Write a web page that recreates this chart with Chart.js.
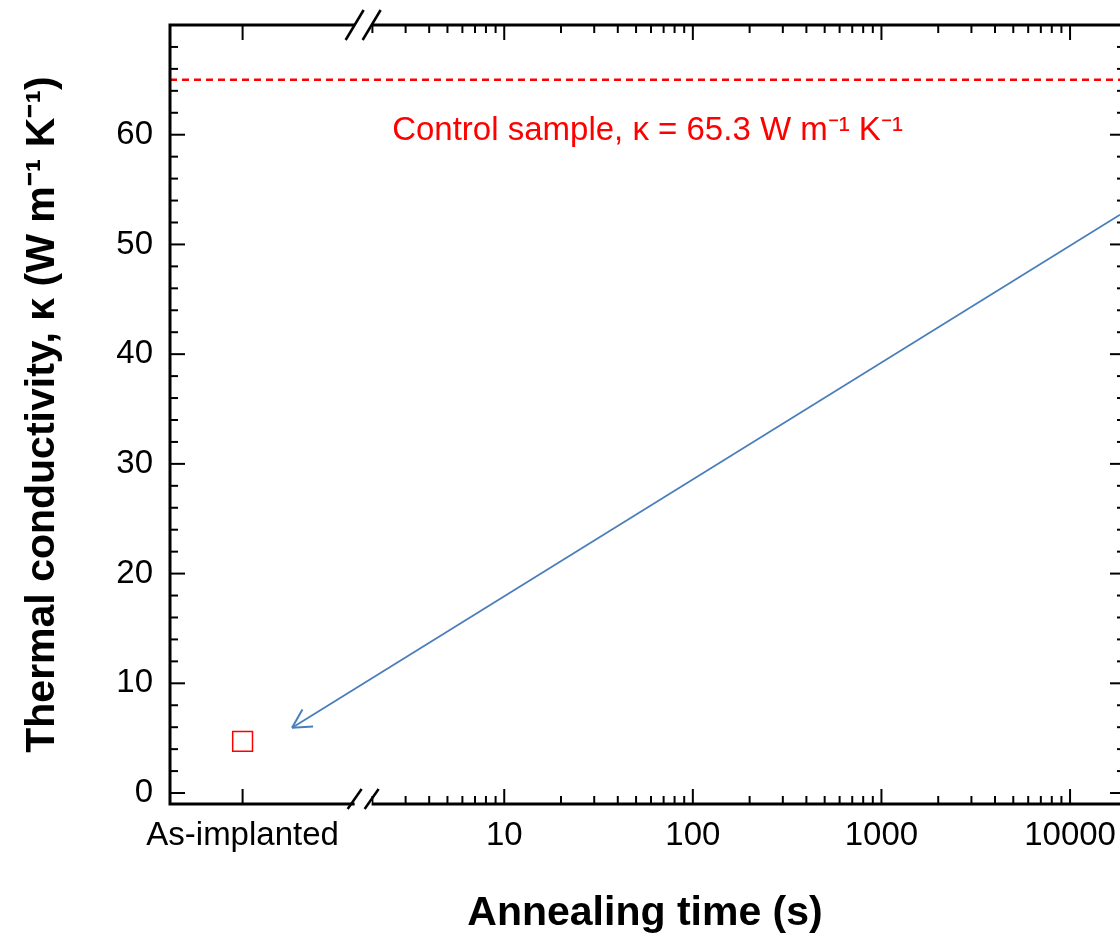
<!DOCTYPE html>
<html>
<head>
<meta charset="utf-8">
<title>Thermal conductivity vs annealing time</title>
<script src="https://cdn.jsdelivr.net/npm/chart.js@4.4.1/dist/chart.umd.min.js"></script>
<style>
  html, body { margin: 0; padding: 0; background: #fff; overflow: hidden; }
  #kappaChart { display: block; }
</style>
</head>
<body>
<canvas id="kappaChart" width="1120" height="939"></canvas>
<script>
// values
const sampleLabels = ['As-implanted'];
const sampleKappa = [4.7];            // W m-1 K-1
const controlKappa = [65];            // dashed reference level
const controlText = 'Control sample, κ = 65.3 W m⁻¹ K⁻¹';
const xTickValues = [10, 100, 1000, 10000];
const xTickLabels = ['10', '100', '1000', '10000'];
const yTickValues = [0, 10, 20, 30, 40, 50, 60];
// arrow annotation, [time (s), kappa]
const arrowTail = [18400, 52.7];
const arrowHead = [0.75, 5.95];

// broken x axis: a slot for the as-implanted sample left of the break, log time on the right.
// The figure is cropped at the right, so X_MAX is where the picture ends, not the axis.
const X_MIN = 0.169, X_MAX = 18400;
const AS_IMPLANTED_X = 0.41;
const X_BREAK = 1.83;
const Y_MIN = -1, Y_MAX = 70;

const FONT = "'Liberation Sans', Arial, sans-serif";

// keep the plot box where the layout padding puts it
function noScalePadding(s) {
    s.paddingTop = 0; s.paddingBottom = 0; s.paddingLeft = 0; s.paddingRight = 0;
}

const framePlugin = {
    id: 'frame',
    afterDatasetsDraw(chart) {
        const { ctx, chartArea: a, scales: { x, y } } = chart;
        const line = (x1, y1, x2, y2) => {
            ctx.beginPath(); ctx.moveTo(x1, y1); ctx.lineTo(x2, y2); ctx.stroke();
        };
        // the right frame sits just past the cropped edge
        const rightEdge = a.right + 5;
        ctx.save();
        ctx.strokeStyle = '#000';

        // inward ticks on all four sides
        ctx.lineWidth = 2;
        const major = 15, minor = 8;
        for (let v = 0; v <= Y_MAX; v += 2) {
            const p = y.getPixelForValue(v);
            const len = v % 10 === 0 ? major : minor;
            line(a.left, p, a.left + len, p);
            line(rightEdge, p, rightEdge - len, p);
        }
        const xTick = (v, len) => {
            const p = x.getPixelForValue(v);
            line(p, a.bottom, p, a.bottom - len);
            line(p, a.top, p, a.top + len);
        };
        xTick(AS_IMPLANTED_X, major);
        for (let d = 1; d <= 10000; d *= 10) {
            for (let m = 1; m <= 9; m++) {
                const v = m * d;
                if (v > X_BREAK && v < X_MAX) xTick(v, m === 1 ? major : minor);
            }
        }

        // box
        ctx.lineWidth = 3;
        ctx.strokeRect(a.left, a.top, rightEdge - a.left, a.bottom - a.top);

        // axis break marks
        const bx = x.getPixelForValue(X_BREAK);
        const gap = 17;
        ctx.fillStyle = '#fff';
        ctx.fillRect(bx - gap / 2 - 2, a.top - 3, gap, 6);
        ctx.fillRect(bx - gap / 2 - 2, a.bottom - 3, gap, 6);
        ctx.lineWidth = 2.5;
        [bx - gap / 2 - 2, bx + gap / 2 - 2].forEach(cx => {
            line(cx - 9, a.top + 15, cx + 9, a.top - 15);
            line(cx - 7, a.bottom + 5, cx + 7, a.bottom - 15);
        });

        // arrow head
        const hx = x.getPixelForValue(arrowHead[0]), hy = y.getPixelForValue(arrowHead[1]);
        const tx = x.getPixelForValue(arrowTail[0]), ty = y.getPixelForValue(arrowTail[1]);
        const ang = Math.atan2(ty - hy, tx - hx);
        const wing = 21, spread = 0.5;
        ctx.strokeStyle = '#4a7ebb';
        ctx.lineWidth = 2;
        line(hx, hy, hx + wing * Math.cos(ang + spread), hy + wing * Math.sin(ang + spread));
        line(hx, hy, hx + wing * Math.cos(ang - spread), hy + wing * Math.sin(ang - spread));

        // control sample label
        ctx.fillStyle = '#ff0000';
        ctx.font = '33px ' + FONT;
        ctx.textAlign = 'center';
        ctx.textBaseline = 'alphabetic';
        ctx.fillText(controlText, (a.left + rightEdge) / 2, y.getPixelForValue(controlKappa[0]) + 60);
        ctx.restore();
    }
};

new Chart(document.getElementById('kappaChart'), {
    type: 'scatter',
    data: {
        datasets: [
            {
                label: 'Control sample',
                data: [{ x: X_MIN, y: controlKappa[0] }, { x: X_MAX, y: controlKappa[0] }],
                showLine: true,
                borderColor: '#ff0000',
                borderWidth: 2.5,
                borderDash: [7, 5],
                pointRadius: 0
            },
            {
                label: 'arrow',
                data: [{ x: arrowTail[0], y: arrowTail[1] }, { x: arrowHead[0], y: arrowHead[1] }],
                showLine: true,
                borderColor: '#4a7ebb',
                borderWidth: 1.8,
                pointRadius: 0
            },
            {
                label: sampleLabels[0],
                data: sampleKappa.map(k => ({ x: AS_IMPLANTED_X, y: k })),
                pointStyle: 'rect',
                pointRadius: 14,
                pointHoverRadius: 14,
                borderColor: '#ff0000',
                borderWidth: 1.5,
                backgroundColor: 'rgba(0,0,0,0)'
            }
        ]
    },
    options: {
        responsive: false,
        animation: false,
        devicePixelRatio: 1,
        layout: { autoPadding: false, padding: { top: 25, right: 0, left: 0, bottom: 0 } },
        plugins: { legend: { display: false }, tooltip: { enabled: false } },
        scales: {
            x: {
                type: 'logarithmic',
                min: X_MIN,
                max: X_MAX,
                afterFit: s => { s.height = 135; noScalePadding(s); },
                afterBuildTicks: s => {
                    s.ticks = [AS_IMPLANTED_X, ...xTickValues].map(v => ({ value: v }));
                },
                grid: { display: false, drawTicks: false },
                border: { display: false },
                ticks: {
                    autoSkip: false,
                    maxRotation: 0,
                    padding: 12,
                    color: '#000',
                    font: { size: 33, family: FONT },
                    callback: (v, i) => i === 0 ? sampleLabels[0] : xTickLabels[i - 1]
                },
                title: {
                    display: true,
                    text: 'Annealing time (s)',
                    color: '#000',
                    font: { size: 41, weight: 'bold', family: FONT },
                    padding: { top: 0, bottom: 1 }
                }
            },
            y: {
                min: Y_MIN,
                max: Y_MAX,
                afterFit: s => { s.width = 170; noScalePadding(s); },
                afterBuildTicks: s => { s.ticks = yTickValues.map(v => ({ value: v })); },
                grid: { display: false, drawTicks: false },
                border: { display: false },
                ticks: { padding: 17, color: '#000', font: { size: 33, family: FONT } },
                title: {
                    display: true,
                    text: 'Thermal conductivity, κ (W m⁻¹ K⁻¹)',
                    color: '#000',
                    font: { size: 41, weight: 'bold', family: FONT },
                    padding: { top: 18, bottom: 0 }
                }
            }
        }
    },
    plugins: [framePlugin]
});
</script>
</body>
</html>
